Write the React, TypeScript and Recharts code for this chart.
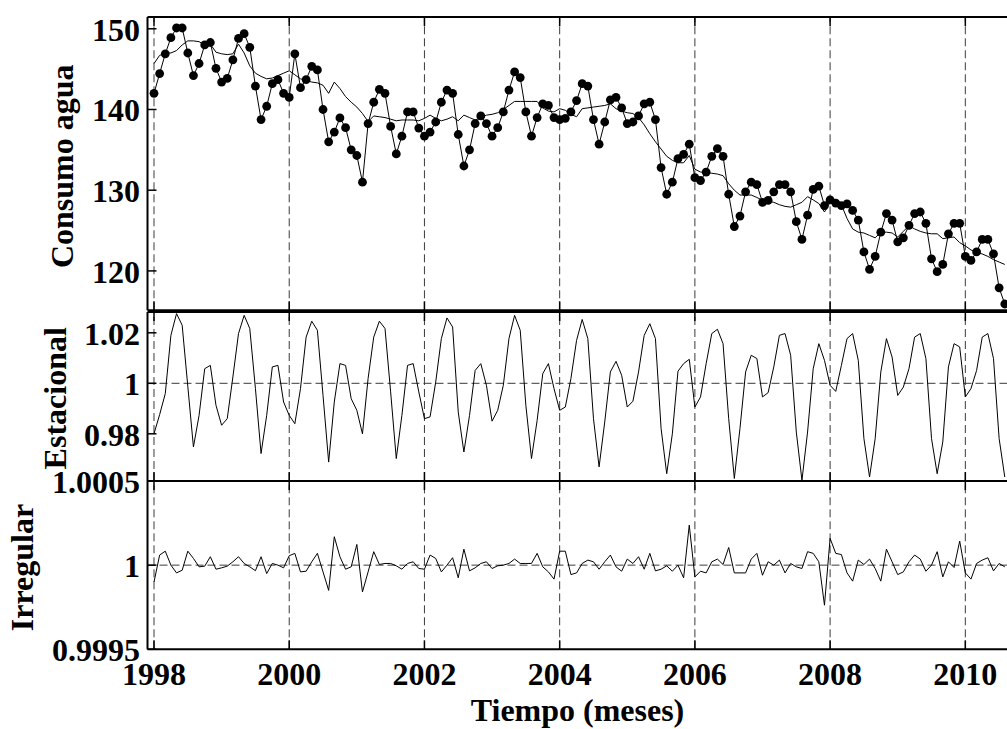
import React from 'react';
import { ComposedChart, Line, XAxis, YAxis, ReferenceLine, Label } from 'recharts';

// ---------------- DATA ----------------
const START_YEAR = 1998;

const consumo = [
  142.0, 144.45, 146.9, 148.9, 150.1, 150.1, 147.0, 144.2, 145.7, 148.0,
  148.3, 145.1, 143.4, 143.85, 146.15, 148.8, 149.4, 147.7, 142.9, 138.75,
  140.4, 143.2, 143.7, 142.0, 141.5, 146.9, 142.7, 143.7, 145.35, 144.9,
  140.0, 136.0, 137.2, 138.95, 137.75, 135.0, 134.3, 131.0, 138.25, 140.9,
  142.5, 142.0, 137.9, 134.5, 136.7, 139.7, 139.7, 137.7, 136.7, 137.2,
  138.45, 140.9, 142.4, 142.0, 136.9, 133.0, 135.0, 138.25, 139.2, 138.25,
  136.7, 137.75, 139.7, 142.4, 144.65, 143.95, 139.7, 136.7, 139.0, 140.7,
  140.5, 139.0, 138.75, 138.9, 139.7, 141.1, 143.2, 142.9, 138.75, 135.7,
  138.45, 141.2, 141.5, 140.2, 138.25, 138.45, 139.2, 140.7, 140.9, 138.75,
  132.8, 129.5, 131.0, 133.9, 134.45, 135.7, 131.55, 131.2, 132.25, 134.2,
  135.15, 134.2, 129.5, 125.5, 126.8, 129.8, 131.0, 130.7, 128.5, 128.75,
  129.8, 130.7, 130.7, 129.8, 126.1, 123.9, 126.9, 130.1, 130.5, 128.1,
  128.8, 128.4, 128.1, 128.3, 127.5, 126.3, 122.35, 120.2, 121.8, 124.8,
  127.1, 126.3, 123.6, 124.1, 125.65, 127.1, 127.3, 125.9, 121.5, 119.9,
  120.8, 124.6, 125.9, 125.9, 121.8, 121.3, 122.35, 123.9, 123.9, 122.1,
  117.9, 115.9,
];

const tendencia = [
  145.7, 146.7, 147.0, 147.0, 147.3, 148.0, 148.5, 148.5, 148.4, 148.0,
  148.1, 147.1, 146.9, 146.8, 146.9, 148.1, 147.0, 145.4, 144.5, 144.1,
  143.8, 143.9, 144.2, 144.5, 144.8, 144.3, 143.8, 143.6, 143.4, 143.3,
  143.0, 142.0, 143.4, 142.6, 141.6, 140.9, 140.3, 139.5, 138.5, 139.2,
  139.1, 139.0, 138.8, 138.6, 138.7, 138.7, 138.7, 138.6, 138.9, 139.3,
  138.9, 138.6, 138.8, 139.1, 138.6, 139.3, 139.0, 138.7, 139.0, 139.3,
  139.4, 139.6, 140.0, 140.5, 141.0, 141.0, 141.0, 141.0, 141.0, 140.2,
  139.8, 139.7, 140.1, 139.9, 139.4, 139.1, 140.1, 140.2, 140.3, 140.4,
  140.5, 140.7, 140.1, 139.8, 139.6, 139.5, 139.0, 138.1, 137.0, 136.0,
  135.1, 134.2, 133.7, 133.4, 133.4, 134.3, 132.6, 132.25, 132.2, 132.1,
  132.0, 131.8, 130.8, 130.0, 129.4, 129.4, 129.4, 129.1, 128.75, 128.6,
  128.5, 128.2, 128.0, 127.9, 128.2, 128.5, 129.2, 128.8, 128.35, 127.3,
  128.5, 128.4, 128.2, 126.5, 125.2, 124.8, 124.7, 124.4, 124.1, 124.8,
  124.8, 124.7, 124.2, 124.9, 125.6, 125.2, 124.9, 124.7, 124.6, 124.6,
  124.0, 124.1, 124.2, 123.5, 123.1, 122.6, 122.3, 122.1, 121.8, 121.4,
  121.1, 120.8,
];

const estacional = [
  0.980, 0.9876, 0.9959, 1.019, 1.0276, 1.023, 0.9988, 0.9748, 0.9873, 1.0058,
  1.0071, 0.9913, 0.9834, 0.986, 1.0025, 1.0197, 1.0269, 1.0217, 0.998, 0.9722,
  0.9873, 1.0065, 1.0071, 0.9926, 0.9873, 0.984, 0.9979, 1.0183, 1.0246, 1.021,
  0.9952, 0.9688, 0.9926, 1.0078, 1.0071, 0.9939, 0.9893, 0.980, 1.0019, 1.0183,
  1.0246, 1.0217, 0.9966, 0.9702, 0.9873, 1.0071, 1.0078, 0.9966, 0.986, 0.9867,
  1.0005, 1.0177, 1.0259, 1.0223, 0.9886, 0.9728, 0.9873, 1.0051, 1.0078, 0.9992,
  0.985, 0.9893, 0.9992, 1.0177, 1.0269, 1.021, 0.9913, 0.9702, 0.9853, 1.0038,
  1.0078, 0.9979, 0.9893, 0.9906, 1.0019, 1.017, 1.0253, 1.0177, 0.986, 0.9669,
  0.9847, 1.0045, 1.0087, 1.0032, 0.9906, 0.9929, 1.0045, 1.019, 1.0236, 1.0177,
  0.9821, 0.9642, 0.980, 1.0048, 1.0078, 1.0095, 0.9906, 0.9946, 1.0078, 1.0197,
  1.0214, 1.0157, 0.986, 0.9623, 0.9821, 1.0045, 1.0111, 1.0098, 0.9946, 0.9963,
  1.0065, 1.019, 1.0197, 1.0111, 0.9807, 0.9616, 0.9807, 1.0058, 1.0157, 1.0091,
  0.9992, 0.9968, 1.0071, 1.0177, 1.0197, 1.0091, 0.9781, 0.9629, 0.9781, 1.0045,
  1.0177, 1.0104, 0.9952, 0.9985, 1.0058, 1.0183, 1.0197, 1.0098, 0.9781, 0.9642,
  0.9768, 1.0065, 1.0157, 1.0144, 0.9946, 0.9979, 1.0051, 1.0183, 1.0197, 1.0098,
  0.9781, 0.9629,
];

const irregular = [
  0.99990, 1.00006, 1.000083, 1.0, 0.999954, 0.99997, 1.000083, 1.00004, 0.99999, 0.999994,
  1.00005, 0.999976, 0.999984, 0.999994, 1.00002, 1.00005, 1.00001, 0.99999, 0.999967, 1.00005,
  0.99995, 1.00001, 1.0, 0.999984, 1.000056, 1.00007, 0.99996, 0.999964, 1.00002, 1.00007,
  0.99996, 0.99985, 1.000169, 1.00005, 0.999976, 0.99999, 1.000123, 0.999841, 0.99996, 1.00008,
  1.000004, 1.00001, 1.00001, 0.999996, 0.999976, 1.00001, 1.00002, 0.99998, 0.999976, 1.00006,
  1.00004, 0.99996, 1.0, 1.000044, 0.999925, 1.000095, 0.999966, 0.999984, 1.00001, 1.00002,
  0.99998, 0.999996, 1.0, 1.00001, 1.000036, 1.00001, 1.00001, 1.00001, 1.00007, 0.99999,
  0.99996, 0.999917, 1.000083, 1.000083, 0.999944, 0.999954, 1.00001, 1.00003, 1.00002, 0.999976,
  1.00002, 1.00006, 0.99999, 0.999964, 1.000036, 1.00001, 1.00005, 0.999976, 1.00007, 0.999966,
  0.999976, 0.999996, 0.999964, 1.0, 0.999925, 1.000238, 0.99993, 0.999964, 0.999954, 1.00002,
  1.000036, 1.000004, 1.000105, 0.999954, 0.999954, 0.999954, 1.000036, 1.00007, 0.99994, 1.00002,
  1.0, 1.00003, 0.999954, 1.00001, 0.99999, 0.99998, 1.00008, 1.00007, 1.00002, 0.999762,
  1.000159, 1.00007, 1.000063, 0.999954, 0.999905, 1.00003, 1.000004, 1.000036, 0.99998, 0.999905,
  1.000095, 1.00002, 0.999944, 0.99996, 1.00002, 1.00006, 1.000036, 0.999964, 1.0, 1.00008,
  0.99993, 1.00002, 0.999986, 1.000143, 0.999954, 0.999917, 1.00001, 1.00003, 1.000044, 0.999966,
  1.00001, 0.99999,
];

const yearTicks = [1998, 2000, 2002, 2004, 2006, 2008, 2010];
const consumoTicks = [120, 130, 140, 150];
const estacionalTicks = [0.98, 1, 1.02];
const irregularTicks = [0.9995, 1, 1.0005];

const data = consumo.map((v, i) => ({
  t: START_YEAR + i / 12,
  consumo: v,
  tendencia: tendencia[i],
  estacional: estacional[i],
  irregular: irregular[i],
}));

// ---------------- LAYOUT (page coordinates) ----------------
const X_DOMAIN: [number, number] = [1997.9039, 2010.742];
const CHART_W = 1028;
const Y_AXIS_W = 147.5;
const RIGHT_M = 12.5;
const X_AXIS_H = 1;
const TICK = 9;
const FONT: React.CSSProperties = {
  fontFamily: '"Liberation Serif", "Times New Roman", serif',
  fontWeight: 'bold',
  fontSize: 32,
};
const DASH = '8 4';
const GRID = '#3a3a3a';

const makeXTick = (plotH: number, showLabel: boolean) => (props: any) => {
  const { x, y, payload } = props;
  return (
    <g>
      <line x1={x} y1={y} x2={x} y2={y - TICK} stroke="#000" strokeWidth={1.5} />
      <line x1={x} y1={y - plotH} x2={x} y2={y - plotH + TICK} stroke="#000" strokeWidth={1.5} />
      {showLabel && (
        <text x={x} y={y + 36} textAnchor="middle" fill="#000" style={FONT}>
          {payload.value}
        </text>
      )}
    </g>
  );
};

const makeYTick = () => (props: any) => {
  const { x, y, payload } = props;
  return (
    <g>
      <line x1={x} y1={y} x2={x + TICK} y2={y} stroke="#000" strokeWidth={1.5} />
      <text x={x - 7.5} y={y + 12} textAnchor="end" fill="#000" style={FONT}>
        {String(payload.value)}
      </text>
    </g>
  );
};

const yTitle = (text: string, baseX: number, dyCenter: number) => (props: any) => {
  const vb = props.viewBox || { x: 0, y: 0, width: 0, height: 0 };
  const cy = vb.y + dyCenter;
  return (
    <text
      x={baseX}
      y={cy}
      textAnchor="middle"
      fill="#000"
      style={FONT}
      transform={`rotate(-90, ${baseX}, ${cy})`}
    >
      {text}
    </text>
  );
};

const xTitle = (text: string, cx: number, dy: number) => (props: any) => {
  const vb = props.viewBox || { x: 0, y: 0, width: 0, height: 0 };
  return (
    <text x={cx} y={vb.y + dy} textAnchor="middle" fill="#000" style={FONT}>
      {text}
    </text>
  );
};

type PanelProps = {
  plotTop: number;
  plotH: number;
  mTop: number;
  mBottom: number;
  domain: [number, number];
  ticks: number[];
  showXLabels: boolean;
  refOne: boolean;
  title: React.ReactNode;
  xLabel?: React.ReactNode;
  children: React.ReactNode;
};

function Panel({ plotTop, plotH, mTop, mBottom, domain, ticks, showXLabels, refOne, title, xLabel, children }: PanelProps) {
  const h = plotH + mTop + mBottom;
  return (
    <div style={{ position: 'absolute', left: 0, top: plotTop - mTop }}>
      <ComposedChart
        width={CHART_W}
        height={h}
        data={data}
        margin={{ top: mTop, right: RIGHT_M, bottom: mBottom - X_AXIS_H, left: 0 }}
      >
        <XAxis
          type="number"
          dataKey="t"
          domain={X_DOMAIN}
          allowDataOverflow
          ticks={yearTicks}
          interval={0}
          height={X_AXIS_H}
          tickSize={0}
          tickMargin={0}
          tickLine={false}
          axisLine={{ stroke: '#000', strokeWidth: 2 }}
          tick={makeXTick(plotH, showXLabels)}
        >
          {xLabel}
        </XAxis>
        <YAxis
          type="number"
          domain={domain}
          allowDataOverflow
          ticks={ticks}
          interval={0}
          width={Y_AXIS_W}
          tickSize={0}
          tickMargin={0}
          tickLine={false}
          axisLine={{ stroke: '#000', strokeWidth: 2 }}
          tick={makeYTick()}
        >
          {title}
        </YAxis>
        {yearTicks.map((yr) => (
          <ReferenceLine key={`v${yr}`} x={yr} stroke={GRID} strokeDasharray={DASH} strokeWidth={1} />
        ))}
        {refOne && <ReferenceLine y={1} stroke={GRID} strokeDasharray={DASH} strokeWidth={1} />}
        <ReferenceLine y={domain[1]} stroke="#000" strokeWidth={2} />
        {children}
      </ComposedChart>
    </div>
  );
}

export default function App() {
  return (
    <div
      style={{
        position: 'absolute',
        left: 0,
        top: 0,
        width: 1007,
        height: 729,
        overflow: 'hidden',
        background: '#fff',
      }}
    >
      <Panel
        plotTop={16.7}
        plotH={293.3}
        mTop={16}
        mBottom={12}
        domain={[115.12, 151.46]}
        ticks={consumoTicks}
        showXLabels={false}
        refOne={false}
        title={<Label content={yTitle('Consumo agua', 73.3, 149.3)} />}
      >
        <Line
          type="linear"
          dataKey="tendencia"
          stroke="#000"
          strokeWidth={1}
          dot={false}
          isAnimationActive={false}
        />
        <Line
          type="linear"
          dataKey="consumo"
          stroke="#000"
          strokeWidth={1}
          dot={{ r: 4.4, fill: '#000', stroke: '#000', strokeWidth: 0 }}
          isAnimationActive={false}
        />
      </Panel>
      <Panel
        plotTop={311.7}
        plotH={169}
        mTop={25}
        mBottom={12}
        domain={[0.96131, 1.02824]}
        ticks={estacionalTicks}
        showXLabels={false}
        refOne={true}
        title={<Label content={yTitle('Estacional', 65.7, 86.3)} />}
      >
        <Line
          type="linear"
          dataKey="estacional"
          stroke="#000"
          strokeWidth={1}
          dot={false}
          isAnimationActive={false}
        />
      </Panel>
      <Panel
        plotTop={481}
        plotH={168.3}
        mTop={25}
        mBottom={95}
        domain={[0.9995, 1.0005]}
        ticks={irregularTicks}
        showXLabels={true}
        refOne={true}
        title={<Label content={yTitle('Irregular', 33.3, 86.5)} />}
        xLabel={<Label content={xTitle('Tiempo (meses)', 577.5, 71.8)} />}
      >
        <Line
          type="linear"
          dataKey="irregular"
          stroke="#000"
          strokeWidth={1}
          dot={false}
          isAnimationActive={false}
        />
      </Panel>
    </div>
  );
}
